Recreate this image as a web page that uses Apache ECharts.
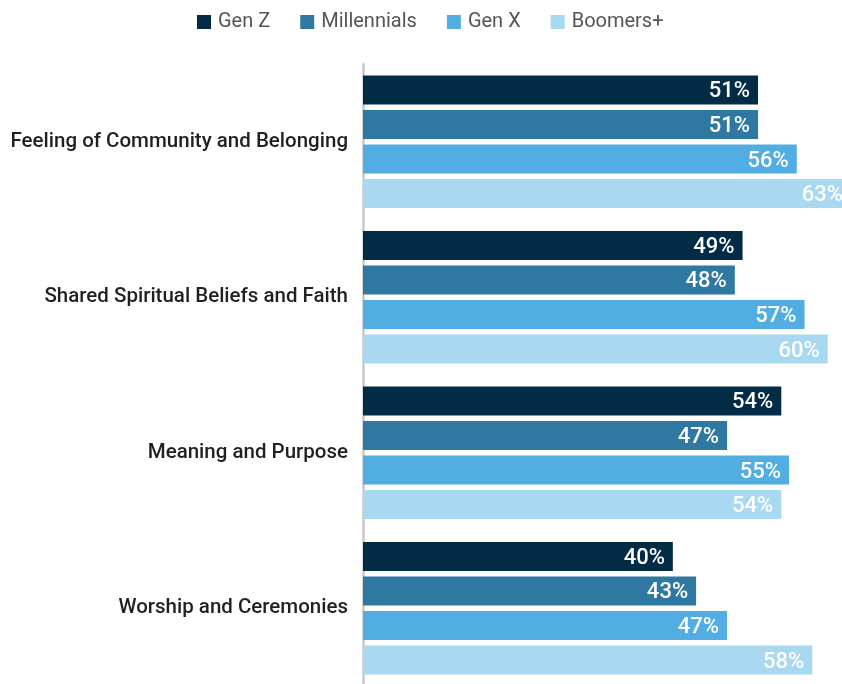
<!DOCTYPE html>
<html>
<head>
<meta charset="utf-8">
<script src="https://cdn.jsdelivr.net/npm/echarts@6/dist/echarts.min.js"></script>
<style>
html,body{margin:0;padding:0;background:#fff;}
#chart{width:842px;height:684px;}
</style>
</head>
<body>
<div id="chart"></div>
<script>
const categories = ["Feeling of Community and Belonging", "Shared Spiritual Beliefs and Faith", "Meaning and Purpose", "Worship and Ceremonies"];
const genZ = [51, 49, 54, 40];
const millennials = [51, 48, 47, 43];
const genX = [56, 57, 55, 47];
const boomers = [63, 60, 54, 58];
const seriesNames = ["Gen Z", "Millennials", "Gen X", "Boomers+"];
const colors = ["#022b46", "#2f78a1", "#52aee2", "#a9d8f1"];

const FONT = "Roboto, 'Liberation Sans', sans-serif";
const chart = echarts.init(document.getElementById('chart'), null, {renderer: 'canvas'});
const dataSets = [genZ, millennials, genX, boomers];
chart.setOption({
  animation: false,
  textStyle: {fontFamily: FONT},
  legend: {
    top: 12,
    left: 197,
    padding: 0,
    itemWidth: 14,
    itemHeight: 14,
    itemGap: 30,
    icon: 'rect',
    textStyle: {fontSize: 20, color: '#555', fontFamily: FONT, padding: [0, 0, 0, 2]},
    data: seriesNames
  },
  grid: {left: 363, width: 488, top: 64, height: 622, containLabel: false, outerBoundsMode: 'none'},
  xAxis: {
    type: 'value', min: 0, max: 63,
    show: false
  },
  yAxis: {
    type: 'category',
    inverse: true,
    data: categories,
    axisLine: {show: true, lineStyle: {color: '#c8c8c8', width: 2.5}},
    axisTick: {show: false},
    axisLabel: {fontSize: 20.5, color: '#231f20', margin: 15, fontFamily: FONT, fontWeight: 500, padding: [4, 0, 0, 0]}
  },
  series: dataSets.map((d, i) => ({
    name: seriesNames[i],
    type: 'bar',
    data: d,
    barWidth: 29,
    barGap: '19%',
    itemStyle: {color: colors[i]},
    label: {
      show: true,
      position: 'insideRight',
      distance: 8,
      offset: [0, 2],
      formatter: '{c}%',
      color: '#fff',
      fontSize: 22,
      fontWeight: 500,
      fontFamily: FONT
    }
  }))
});
</script>
</body>
</html>
